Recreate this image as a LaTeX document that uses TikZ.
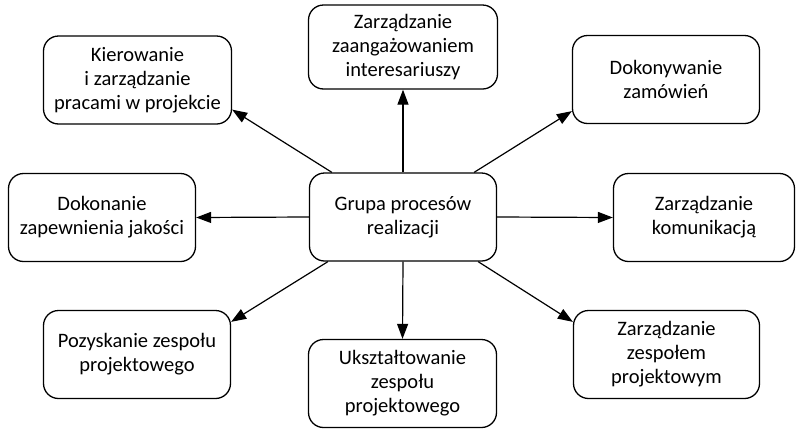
\documentclass[tikz,border=0pt]{standalone}
\usepackage{fontspec}
\setmainfont{Carlito}
\usetikzlibrary{arrows.meta,calc}
\begin{document}
\begin{tikzpicture}[x=1pt,y=-1pt,
  procbox/.style={draw=black, line width=1.3pt, rounded corners=15pt,
    align=center, inner sep=0pt, font=\fontsize{20.5}{24}\selectfont,
    minimum height=88pt},
  flow/.style={line width=1.2pt, -{Triangle[length=15pt,width=11pt]}}]
  \useasboundingbox (0,0) rectangle (796,429);

  % central process group
  \node[procbox, minimum width=187pt] (c) at (403,217) {Grupa procesów\\realizacji};

  % surrounding processes
  \node[procbox, minimum width=189pt, minimum height=84pt] (t) at (403,47)
    {Zarządzanie\\zaangażowaniem\\interesariuszy};
  \node[procbox, minimum width=188pt] (tl) at (137.5,80)
    {Kierowanie\\i zarządzanie\\pracami w projekcie};
  \node[procbox, minimum width=187pt] (tr) at (666,79.5)
    {Dokonywanie\\zamówień};
  \node[procbox, minimum width=187pt] (l) at (102,217.5)
    {Dokonanie\\zapewnienia jakości};
  \node[procbox, minimum width=181pt] (r) at (704,217.5)
    {Zarządzanie\\komunikacją};
  \node[procbox, minimum width=187pt] (bl) at (137,354.5)
    {Pozyskanie zespołu\\projektowego};
  \node[procbox, minimum width=188pt] (b) at (402.5,383.5)
    {Ukształtowanie\\zespołu\\projektowego};
  \node[procbox, minimum width=186pt] (br) at (666.5,354.5)
    {Zarządzanie\\zespołem\\projektowym};

  % connectors from the central group
  \draw[flow] (c.north) -- (t.south);
  \draw[flow] (c.south) -- (b.north);
  \draw[flow] (c.west) -- (l.east);
  \draw[flow] (c.east) -- (r.west);
  \draw[flow] ($(c.north west)+(23,0)$) -- ($(tl.south east)+(0,-15)$);
  \draw[flow] ($(c.north east)+(-23,0)$) -- ($(tr.south west)+(0,-13)$);
  \draw[flow] ($(c.south west)+(19,0)$) -- ($(bl.north east)+(0,12)$);
  \draw[flow] ($(c.south east)+(-19,0)$) -- ($(br.north west)+(0,12)$);
\end{tikzpicture}
\end{document}
